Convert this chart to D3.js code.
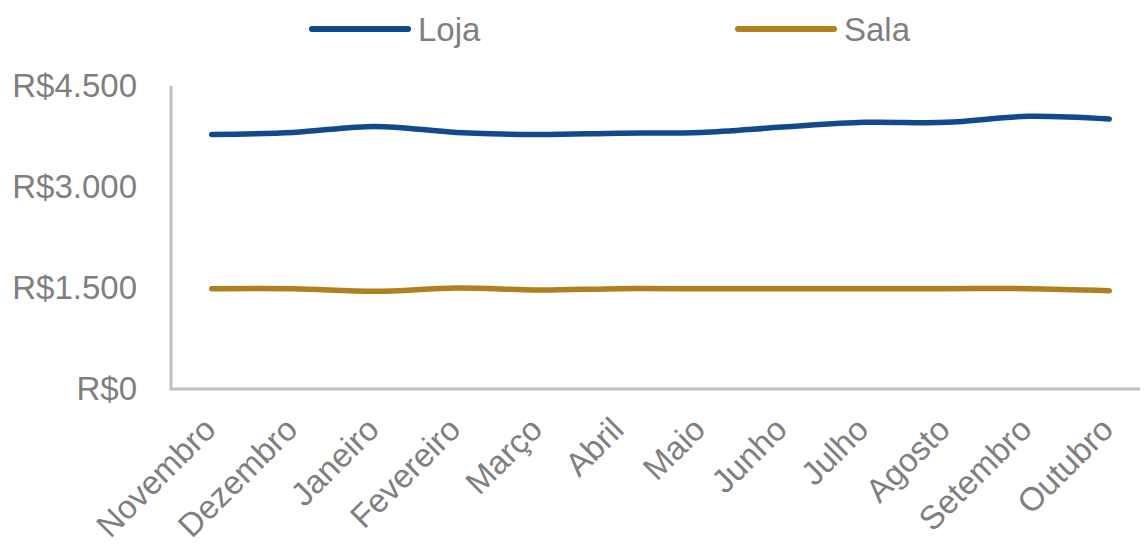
<!DOCTYPE html>
<html>
<head>
<meta charset="utf-8">
<script src="https://cdn.jsdelivr.net/npm/d3@7"></script>
<style>
  html, body { margin: 0; padding: 0; background: #ffffff; }
  svg { display: block; }
  text { font-family: "Liberation Sans", Arial, sans-serif; fill: #7f7f7f; }
</style>
</head>
<body>
<svg id="chart" width="1146" height="545"></svg>
<script>
// Monthly values (R$) for the two locations
const months = ["Novembro", "Dezembro", "Janeiro", "Fevereiro", "Março", "Abril",
                "Maio", "Junho", "Julho", "Agosto", "Setembro", "Outubro"];
const loja = [3780, 3810, 3900, 3810, 3780, 3800, 3810, 3890, 3960, 3960, 4050, 4010];
const sala = [1490, 1490, 1450, 1500, 1470, 1490, 1490, 1490, 1490, 1490, 1490, 1460];
const yTicks = [0, 1500, 3000, 4500];
const seriesNames = ["Loja", "Sala"];
const seriesColors = ["#114a8c", "#b07f1e"];

const svg = d3.select("#chart");
const plotLeft = 171, plotRight = 1150, plotTop = 86, plotBottom = 389;

const x = d3.scalePoint().domain(months).range([plotLeft, plotRight]).padding(0.5);
const y = d3.scaleLinear().domain([0, 4500]).range([plotBottom, plotTop]);

const fmt = v => "R$" + d3.format(",")(v).replace(/,/g, ".");

// Y axis labels (no tick marks)
const yAxis = d3.axisLeft(y).tickValues(yTicks).tickFormat(fmt).tickSize(0).tickPadding(34);
const gy = svg.append("g").attr("transform", `translate(${plotLeft},0)`).call(yAxis);
gy.select(".domain").remove();
gy.selectAll("text").style("font-size", "33px").attr("fill", "#7f7f7f")
  .style("font-family", '"Liberation Sans", Arial, sans-serif');

// Axis lines: vertical left and horizontal bottom
svg.append("path")
  .attr("d", `M${plotLeft},${plotTop}V${plotBottom}H1140`)
  .attr("fill", "none").attr("stroke", "#bfbfbf").attr("stroke-width", 3);

// X axis labels rotated
const xAxis = d3.axisBottom(x).tickSize(0).tickPadding(0);
const gx = svg.append("g").attr("transform", `translate(0,${plotBottom})`).call(xAxis);
gx.select(".domain").remove();
gx.selectAll("text")
  .style("font-size", "33px").attr("fill", "#7f7f7f")
  .style("font-family", '"Liberation Sans", Arial, sans-serif')
  .attr("text-anchor", "end")
  .attr("dy", "0.75em")
  .attr("transform", "translate(-12,25) rotate(-45)");

// Lines
const line = d3.line()
  .x((d, i) => x(months[i]))
  .y(d => y(d))
  .curve(d3.curveCatmullRom.alpha(0.5));

[loja, sala].forEach((vals, k) => {
  svg.append("path")
    .datum(vals)
    .attr("d", line)
    .attr("fill", "none")
    .attr("stroke", seriesColors[k])
    .attr("stroke-width", 5.5)
    .attr("stroke-linecap", "round")
    .attr("stroke-linejoin", "round");
});

// Legend
const legendX = [312, 738];
seriesNames.forEach((name, k) => {
  const g = svg.append("g").attr("transform", `translate(${legendX[k]},29)`);
  g.append("line").attr("x1", 0).attr("x2", 96).attr("y1", 0).attr("y2", 0)
    .attr("stroke", seriesColors[k]).attr("stroke-width", 6).attr("stroke-linecap", "round");
  g.append("text").attr("x", 106).attr("y", 0).attr("dy", "0.35em")
    .style("font-size", "33px").text(name);
});
</script>
</body>
</html>
